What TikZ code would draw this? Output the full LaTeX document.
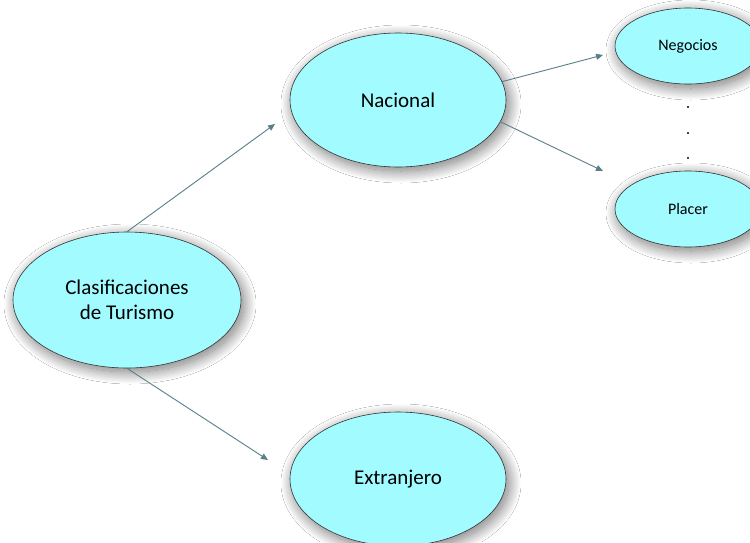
\documentclass[tikz,border=0pt]{standalone}
\usepackage{fontspec}
\setmainfont{Carlito}
\usetikzlibrary{shapes.geometric,arrows.meta,shadows.blur}
\definecolor{elipse}{HTML}{A2FBFF}
\definecolor{flecha}{HTML}{5B7F88}
\begin{document}
\begin{tikzpicture}[x=1pt, y=-1pt, line join=round, line cap=round,
	burbuja/.style={ellipse, draw=black!80, line width=.6pt, fill=elipse, inner sep=0pt,
		blur shadow={shadow xshift=3pt, shadow yshift=-4pt, shadow blur radius=12pt,
			shadow blur steps=30, shadow opacity=55}},
	grande/.style={burbuja, minimum width=216, minimum height=134, font=\fontsize{21}{25}\selectfont},
	chica/.style={burbuja, minimum width=146, minimum height=76, font=\fontsize{16}{19}\selectfont},
	flechita/.style={-{Triangle[length=7pt, width=6pt]}, draw=flecha, line width=.9pt}]
	\useasboundingbox (0,0) rectangle (750,542);
	\clip (0,0) rectangle (750,542);
	\fill[white] (0,0) rectangle (750,542);
	% elipses
	\node[grande, minimum width=228, minimum height=136, align=center] (clas) at (127,300) {Clasificaciones\\de Turismo};
	\node[grande] (nac) at (398,100) {Nacional};
	\node[grande] (ext) at (398,479) {Extranjero};
	\node[chica] (neg) at (688,46) {Negocios};
	\node[chica] (pla) at (688,209) {Placer};
	% puntas libres de las flechas
	\coordinate (anac) at (275,124);
	\coordinate (aext) at (268,460);
	\coordinate (aneg) at (603,55);
	\coordinate (apla) at (603,171);
	\draw[flechita] (clas.north) -- (anac);
	\draw[flechita] (clas.south) -- (aext);
	\draw[flechita] (nac.10) -- (aneg);
	\draw[flechita] (nac.-12) -- (apla);
	\foreach \y in {107,133,158}
	\fill (688,\y) circle(1.1);% puntos suspensivos
\end{tikzpicture}
\end{document}
